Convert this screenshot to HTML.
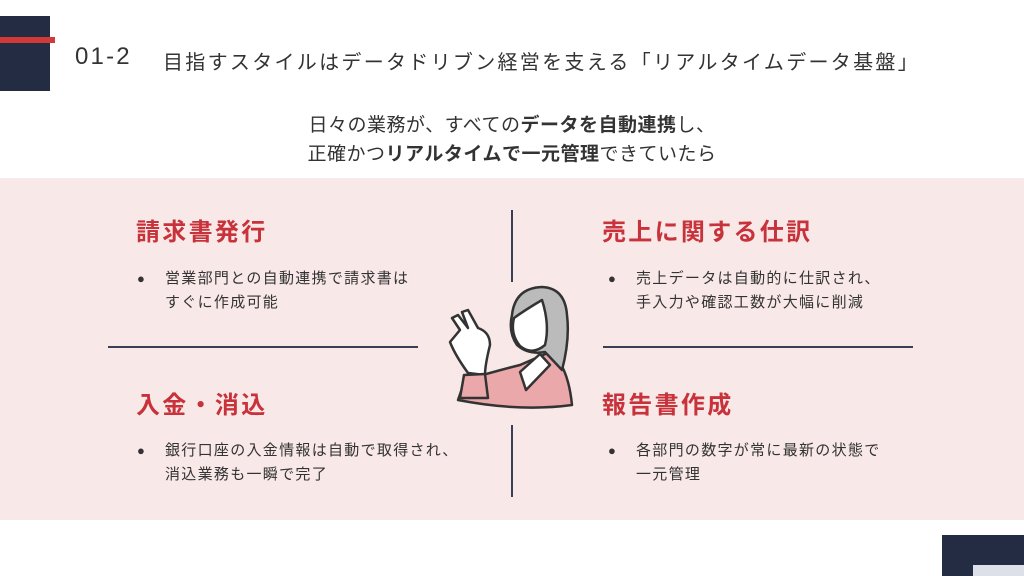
<!DOCTYPE html>
<html><head><meta charset="utf-8"><style>
body{margin:0;width:1024px;height:576px;overflow:hidden;background:#fff;position:relative;font-family:"Liberation Sans","Noto Sans CJK JP",sans-serif;color:#333}
.a{position:absolute}
.h{font-size:24px;font-weight:bold;color:#c8323a;letter-spacing:2.3px}
.b{font-size:15px;line-height:24px;color:#333;letter-spacing:1.3px}
.b:before{content:"●";position:absolute;left:-28px;font-size:13px}
</style></head><body>
<div class="a" style="left:0;top:16px;width:50px;height:75px;background:#232c42"></div>
<div class="a" style="left:0;top:37px;width:55px;height:6px;background:#d23a3a"></div>
<div class="a" style="left:75px;top:43px;font-size:24px;color:#333;letter-spacing:2.2px;white-space:nowrap">01-2</div>
<div class="a" style="left:163px;top:46px;font-size:20px;color:#333;letter-spacing:2.3px;white-space:nowrap">目指すスタイルはデータドリブン経営を支える「リアルタイムデータ基盤」</div>
<div class="a" style="left:0;top:111px;width:1024px;text-align:center;font-size:19px;line-height:29px;color:#333;letter-spacing:0.5px">日々の業務が、すべての<b>データを自動連携</b>し、<br>正確かつ<b>リアルタイムで一元管理</b>できていたら</div>
<div class="a" style="left:0;top:178px;width:1024px;height:342px;background:#f9e8e8"></div>
<div class="a" style="left:511px;top:210px;width:2px;height:72px;background:#3a3f55"></div>
<div class="a" style="left:511px;top:425px;width:2px;height:72px;background:#3a3f55"></div>
<div class="a" style="left:108px;top:346px;width:310px;height:1.5px;background:#3a3f55"></div>
<div class="a" style="left:603px;top:346px;width:310px;height:1.5px;background:#3a3f55"></div>
<div class="a h" style="left:136px;top:212px">請求書発行</div>
<div class="a h" style="left:602px;top:212px">売上に関する仕訳</div>
<div class="a h" style="left:136px;top:385px">入金・消込</div>
<div class="a h" style="left:602px;top:385px">報告書作成</div>
<div class="a b" style="left:165px;top:267px">営業部門との自動連携で請求書は<br>すぐに作成可能</div>
<div class="a b" style="left:636px;top:267px">売上データは自動的に仕訳され、<br>手入力や確認工数が大幅に削減</div>
<div class="a b" style="left:165px;top:439px">銀行口座の入金情報は自動で取得され、<br>消込業務も一瞬で完了</div>
<div class="a b" style="left:636px;top:439px">各部門の数字が常に最新の状態で<br>一元管理</div>
<svg class="a" style="left:420px;top:270px" width="180" height="150" viewBox="0 0 180 150" fill="none" stroke="#333" stroke-width="2.5" stroke-linecap="round" stroke-linejoin="round">
<path d="M38 130 L45 110 Q80 100 100 95 L130 82 Q148 95 152 135 Q100 142 38 130Z" fill="#eba8aa"/>
<path d="M92 45 Q95 18 122 17 Q145 18 147 45 Q150 70 142 100 L125 82 Q108 85 97 75 Q88 62 92 45Z" fill="#bbb"/>
<path d="M94 48 Q105 40 122 30 Q130 55 125 75 Q112 86 100 76 Q90 64 94 48Z" fill="#fff"/>
<path d="M100 102 L120 84 L130 95 L106 120Z" fill="#fff"/>
<path d="M48 103 Q35 85 30 72 L40 60 L32 48 L38 45 L48 58 L42 42 L48 40 L58 58 Q70 62 70 75 Q65 95 65 105Z" fill="#fff"/>
<path d="M44 105 L65 104 L68 128 L40 128Z" fill="#eba8aa"/>
</svg>
<div class="a" style="left:942px;top:535px;width:82px;height:41px;background:#232c42"></div>
<div class="a" style="left:973px;top:565px;width:51px;height:11px;background:#dde0e8"></div>
</body></html>
